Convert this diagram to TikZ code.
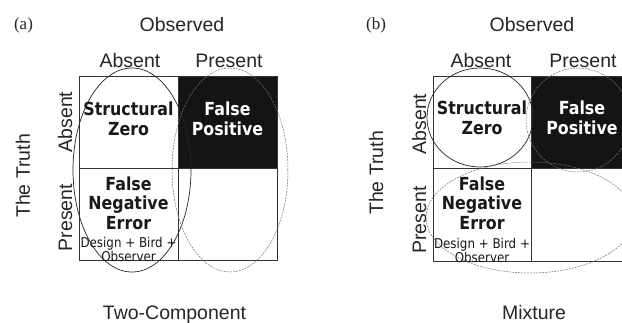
\documentclass[tikz,border=0pt]{standalone}
\usepackage{fontspec}
\setmainfont{Liberation Sans}
\newfontfamily\vsans[FakeStretch=0.88]{DejaVu Sans}
\newfontfamily\serifl{Liberation Serif}
\begin{document}
\begin{tikzpicture}[x=1pt,y=-1pt,
  lab/.style={font=\fontsize{19.5}{22}\selectfont, inner sep=0pt, anchor=base, text=black!85},
  panel/.style={font=\serifl\fontsize{17}{20}\selectfont, inner sep=0pt, text=black!85},
  cellbold/.style={font=\vsans\bfseries\fontsize{18}{19.5}\selectfont, align=center, inner sep=0pt, text=black!90},
  cellsmall/.style={font=\vsans\fontsize{13.5}{14}\selectfont, align=center, inner sep=0pt, text=black!90},
  gridline/.style={draw=black!80, line width=0.8pt},
  solidell/.style={draw=black!85, line width=0.7pt},
  dashell/.style={draw=black!55, line width=0.5pt, dash pattern=on 2pt off 1pt}]
\useasboundingbox (0,0) rectangle (622,323);
\clip (0,0) rectangle (622,323);
\fill[white] (0,0) rectangle (622,323);

% ---------- panel (a) ----------
\fill[black!92] (178,76) rectangle (277,168);
\draw[gridline] (79,76) rectangle (277,260);
\draw[gridline] (178,76) -- (178,260);
\draw[gridline] (79,168) -- (277,168);

\node[panel] (pa) at (23.5,25) {(a)};
\node[lab] (obsa) at (182,32) {Observed};
\node[lab] (cabsa) at (130,68) {Absent};
\node[lab] (cpresa) at (229,68) {Present};
\node[lab, rotate=90] (rabsa) at (72,122) {Absent};
\node[lab, rotate=90] (rpresa) at (72,217.5) {Present};
\node[lab, rotate=90] (trutha) at (30,176) {The Truth};
\node[lab] (twoc) at (174.5,320) {Two-Component};

\node[cellbold] (sza) at (128.5,119) {Structural\\Zero};
\node[cellbold, text=white] (fpa) at (227.5,119) {False\\Positive};
\node[cellbold] (fna) at (128.5,203) {False\\Negative\\Error};
\node[cellsmall] (dba) at (128.5,249.5) {Design + Bird +\\Observer};

\draw[solidell] (132,170) ellipse [x radius=59, y radius=102];
\draw[dashell] (230,170) ellipse [x radius=58, y radius=102];

% ---------- panel (b) ----------
\fill[black!92] (531,76) rectangle (629,168);
\draw[gridline] (433,76) rectangle (629,261);
\draw[gridline] (531,76) -- (531,261);
\draw[gridline] (433,168) -- (629,168);

\node[panel] (pb) at (376,25) {(b)};
\node[lab] (obsb) at (532,32) {Observed};
\node[lab] (cabsb) at (481,68) {Absent};
\node[lab] (cpresb) at (583,68) {Present};
\node[lab, rotate=90] (rabsb) at (426,124) {Absent};
\node[lab, rotate=90] (rpresb) at (426,220) {Present};
\node[lab, rotate=90] (truthb) at (383,173) {The Truth};
\node[lab] (mixt) at (534,320) {Mixture};

\node[cellbold] (szb) at (482,118) {Structural\\Zero};
\node[cellbold, text=white] (fpb) at (582,118) {False\\Positive};
\node[cellbold] (fnb) at (482,203) {False\\Negative\\Error};
\node[cellsmall] (dbb) at (482,250) {Design + Bird +\\Observer};

\draw[solidell] (480,117.5) ellipse [x radius=53, y radius=49.5];
\draw[dashell] (578,120) ellipse [x radius=52, y radius=52];
\draw[dashell] (530,217.5) ellipse [x radius=104, y radius=55.5];
\end{tikzpicture}
\end{document}
